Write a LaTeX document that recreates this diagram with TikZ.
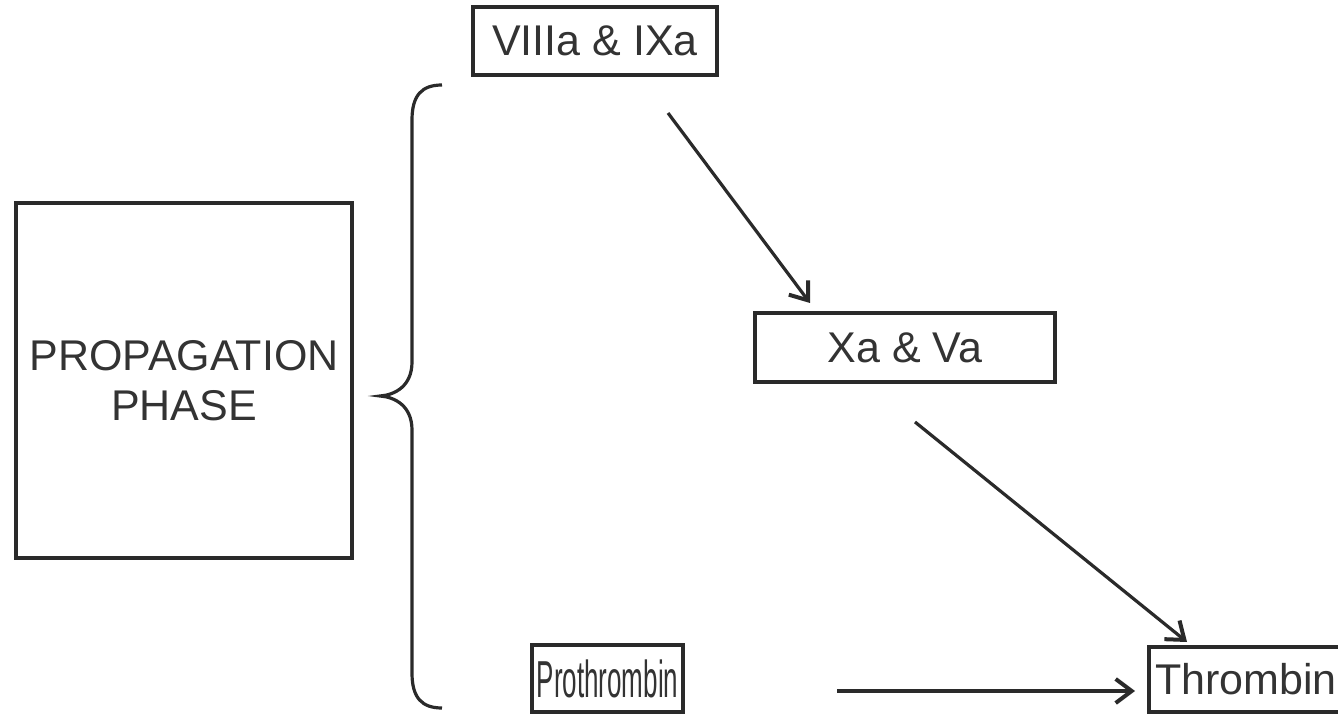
\documentclass[tikz,border=0pt]{standalone}
\usepackage{fontspec}
\usepackage{graphicx}
\setmainfont{Liberation Sans}
\usetikzlibrary{arrows.meta}
\definecolor{ink}{HTML}{2A2A2A}
\definecolor{txt}{HTML}{333333}
\tikzset{
  box/.style={draw=ink, line width=2pt, rectangle, inner sep=0pt, text=txt,
    font=\fontsize{21.5}{25}\selectfont},
  arr/.style={draw=ink, line width=1.6pt, -{Straight Barb[length=8pt, width=12pt, line width=2pt]}},
  brace/.style={draw=ink, line width=1.6pt},
}
\begin{document}
\begin{tikzpicture}[x=0.5pt, y=-0.5pt]
\useasboundingbox (0,0) rectangle (1338,716);
\node[box, minimum width=168pt, minimum height=177.5pt, align=center,
  font=\fontsize{21.5}{25}\selectfont] (prop) at (184,380.5) {PROPAGATION\\PHASE};
\node[box, minimum width=122pt, minimum height=34pt] (viii) at (595,41) {VIIIa \& IXa};
\node[box, minimum width=150pt, minimum height=34.5pt] (xa) at (905,347.5) {Xa \& Va};
\node[box, minimum width=75.5pt, minimum height=33.5pt] (pro) at (607.5,678.5)
  {\scalebox{0.5}[1]{\fontsize{26}{28}\selectfont Prothrombin}};
\node[box, minimum width=104pt, minimum height=32.5pt, anchor=west, text width=98pt, align=left] (thr) at (1147,679.5)
  {Thrombin};
\coordinate (a1s) at (668,113);
\coordinate (a1e) at (810,303);
\coordinate (a2s) at (915,422);
\coordinate (a2e) at (1187,642);
\coordinate (a3s) at (837,691);
\coordinate (a3e) at (1135,691);
\draw[arr] (a1s) -- (a1e);
\draw[arr] (a2s) -- (a2e);
\draw[arr] (a3s) -- (a3e);
\coordinate (btop) at (442,85);
\coordinate (btip) at (380,396);
\coordinate (bbot) at (442,708);
\draw[brace] (btop) .. controls (422,85) and (412,95) .. (412,120) -- (412,362)
  .. controls (412,386) and (395,395) .. (btip)
  .. controls (395,397) and (412,406) .. (412,430) -- (412,673)
  .. controls (412,698) and (422,708) .. (bbot);
\end{tikzpicture}
\end{document}
